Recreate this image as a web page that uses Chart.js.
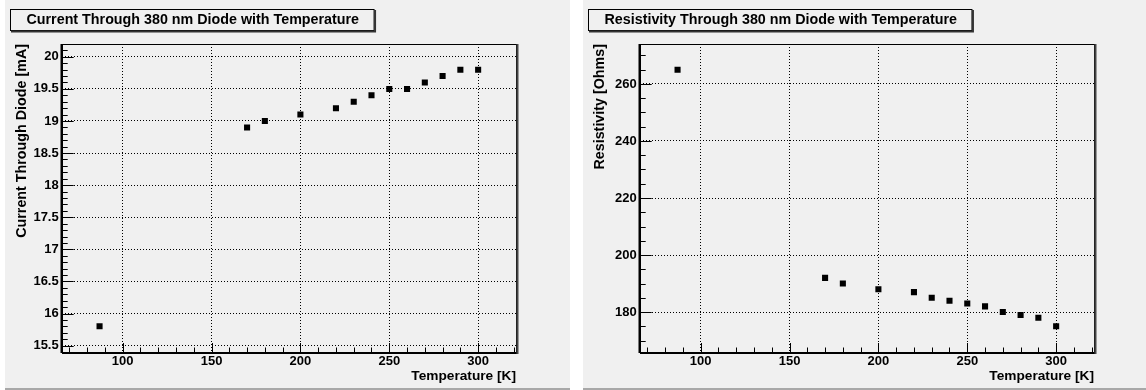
<!DOCTYPE html>
<html>
<head>
<meta charset="utf-8">
<script src="https://cdn.jsdelivr.net/npm/chart.js@4.4.1/dist/chart.umd.min.js"></script>
<style>
  html, body { margin: 0; padding: 0; background: #ffffff; }
  body { width: 1146px; height: 390px; position: relative; overflow: hidden; }
  .pad { position: absolute; top: 0; width: 565px; height: 390px; background: #f0f0f0; box-sizing: border-box; border-bottom: 2px solid #a8a8a8; }
  .pad canvas { position: absolute; left: 0; top: 0; }
</style>
</head>
<body>
<div class="pad" id="pad1" style="left:5px;"><canvas id="c1" width="565" height="390"></canvas></div>
<div class="pad" id="pad2" style="left:583px;"><canvas id="c2" width="565" height="390"></canvas></div>
<script>
// ---- data ----
const temperatures = [87, 170, 180, 200, 220, 230, 240, 250, 260, 270, 280, 290, 300];
const currentMA = [15.8, 18.9, 19.0, 19.1, 19.2, 19.3, 19.4, 19.5, 19.5, 19.6, 19.7, 19.8, 19.8];
const resistivityOhms = [265, 192, 190, 188, 187, 185, 184, 183, 182, 180, 179, 178, 175];

// ---- tick labels ----
const xTicks = [100, 150, 200, 250, 300];
const yTicksCurrent = [15.5, 16, 16.5, 17, 17.5, 18, 18.5, 19, 19.5, 20];
const yTicksResist = [180, 200, 220, 240, 260];

// ---- texts ----
const title1 = 'Current Through 380 nm Diode with Temperature';
const title2 = 'Resistivity Through 380 nm Diode with Temperature';
const xTitle = 'Temperature [K]';
const yTitle1 = 'Current Through Diode [mA]';
const yTitle2 = 'Resistivity [Ohms]';

const FONT = '"Liberation Sans", Arial, Helvetica, sans-serif';

// ROOT-like frame, inner ticks and title box
const rootPlugin = {
  id: 'rootStyle',
  afterDatasetsDraw(chart, args, opts) {
    const ctx = chart.ctx;
    const a = chart.chartArea;
    const xs = chart.scales.x, ys = chart.scales.y;
    ctx.save();
    ctx.strokeStyle = '#000';
    ctx.lineWidth = 1;
    // x ticks (minor every 10, major every 50)
    ctx.beginPath();
    for (let v = Math.ceil(xs.min / 10) * 10; v <= xs.max; v += 10) {
      const px = Math.round(xs.getPixelForValue(v)) + 0.5;
      const len = (v % 50 === 0) ? 9 : 4.5;
      ctx.moveTo(px, a.bottom);
      ctx.lineTo(px, a.bottom - len);
    }
    // y ticks
    const st = opts.yMinor, maj = opts.yMajor;
    const n0 = Math.ceil(ys.min / st - 1e-9), n1 = Math.floor(ys.max / st + 1e-9);
    for (let n = n0; n <= n1; n++) {
      const v = n * st;
      const py = Math.round(ys.getPixelForValue(v)) + 0.5;
      const isMaj = Math.abs(v / maj - Math.round(v / maj)) < 1e-6;
      const len = isMaj ? 12 : 6;
      ctx.moveTo(a.left, py);
      ctx.lineTo(a.left + len, py);
    }
    ctx.stroke();
    // frame
    ctx.lineWidth = 1;
    ctx.strokeRect(Math.round(a.left) + 0.5, Math.round(a.top) + 0.5, Math.round(a.right - a.left), Math.round(a.bottom - a.top));
    ctx.lineWidth = 2;
    ctx.beginPath();
    ctx.moveTo(Math.round(a.left), a.bottom + 1); ctx.lineTo(Math.round(a.right) + 1, a.bottom + 1);
    ctx.moveTo(Math.round(a.left) - 0.5, a.top); ctx.lineTo(Math.round(a.left) - 0.5, a.bottom + 1);
    ctx.stroke();
    ctx.strokeStyle = '#444';
    ctx.beginPath();
    ctx.moveTo(Math.round(a.right) + 1.5, a.top); ctx.lineTo(Math.round(a.right) + 1.5, a.bottom + 2);
    ctx.stroke();
    // title box
    ctx.font = 'bold 14.3px ' + FONT;
    const tw = ctx.measureText(opts.text).width;
    const bx = 5, by = 9, bw = tw + 31, bh = 21;
    ctx.fillStyle = '#f0f0f0';
    ctx.fillRect(bx, by, bw, bh);
    ctx.strokeStyle = '#000';
    ctx.lineWidth = 1;
    ctx.strokeRect(bx + 0.5, by + 0.5, bw, bh);
    ctx.lineWidth = 2;
    ctx.strokeStyle = '#333';
    ctx.beginPath();
    ctx.moveTo(bx + 1, by + bh + 1.5); ctx.lineTo(bx + bw + 1.5, by + bh + 1.5); ctx.lineTo(bx + bw + 1.5, by + 1);
    ctx.stroke();
    ctx.fillStyle = '#000';
    ctx.textBaseline = 'middle';
    ctx.textAlign = 'left';
    ctx.fillText(opts.text, bx + 16.5, by + bh / 2 + 1);
    ctx.restore();
  }
};

function makeChart(id, yValues, yTicks, yMin, yMax, yTitleText, titleText, yAxisWidth, yMinor, yMajor) {
  const points = temperatures.map((t, i) => ({ x: t, y: yValues[i] }));
  return new Chart(document.getElementById(id), {
    type: 'scatter',
    data: {
      datasets: [{
        data: points,
        pointStyle: 'rect',
        pointRadius: 4.3,
        pointHoverRadius: 4.3,
        pointBackgroundColor: '#000',
        pointBorderWidth: 0,
        borderColor: '#000'
      }]
    },
    plugins: [rootPlugin],
    options: {
      responsive: false,
      animation: false,
      events: [],
      layout: { padding: { top: 44, right: 54, left: 0, bottom: 0 } },
      plugins: {
        legend: { display: false },
        title: { display: false },
        tooltip: { enabled: false },
        rootStyle: { text: titleText, yMinor: yMinor, yMajor: yMajor }
      },
      scales: {
        x: {
          type: 'linear',
          min: 65.7, max: 321.3,
          afterBuildTicks: s => { s.ticks = xTicks.map(v => ({ value: v })); },
          afterFit: s => { s.height = 38; },
          ticks: { color: '#000', padding: 2, font: { family: FONT, weight: 'bold', size: 13 }, maxRotation: 0, callback: v => String(v) },
          grid: { color: '#000', lineWidth: 1, drawTicks: false },
          border: { display: false, dash: [1, 2] },
          title: { display: true, text: xTitle, align: 'end', color: '#000', padding: { top: 0, bottom: 6 }, font: { family: FONT, weight: 'bold', size: 13.7 } }
        },
        y: {
          type: 'linear',
          min: yMin, max: yMax,
          afterBuildTicks: s => { s.ticks = yTicks.map(v => ({ value: v })); },
          afterFit: s => { s.width = yAxisWidth; },
          ticks: { color: '#000', padding: 3, font: { family: FONT, weight: 'bold', size: 13 }, callback: v => String(v) },
          grid: { color: '#000', lineWidth: 1, drawTicks: false },
          border: { display: false, dash: [1, 2] },
          title: { display: true, text: yTitleText, align: 'end', color: '#000', padding: { top: 8, bottom: 0 }, font: { family: FONT, weight: 'bold', size: 14.3 } }
        }
      }
    }
  });
}

makeChart('c1', currentMA, yTicksCurrent, 15.4, 20.2, yTitle1, title1, 56.7, 0.1, 0.5);
makeChart('c2', resistivityOhms, yTicksResist, 166, 274, yTitle2, title2, 56.7, 5, 20);
</script>
</body>
</html>
